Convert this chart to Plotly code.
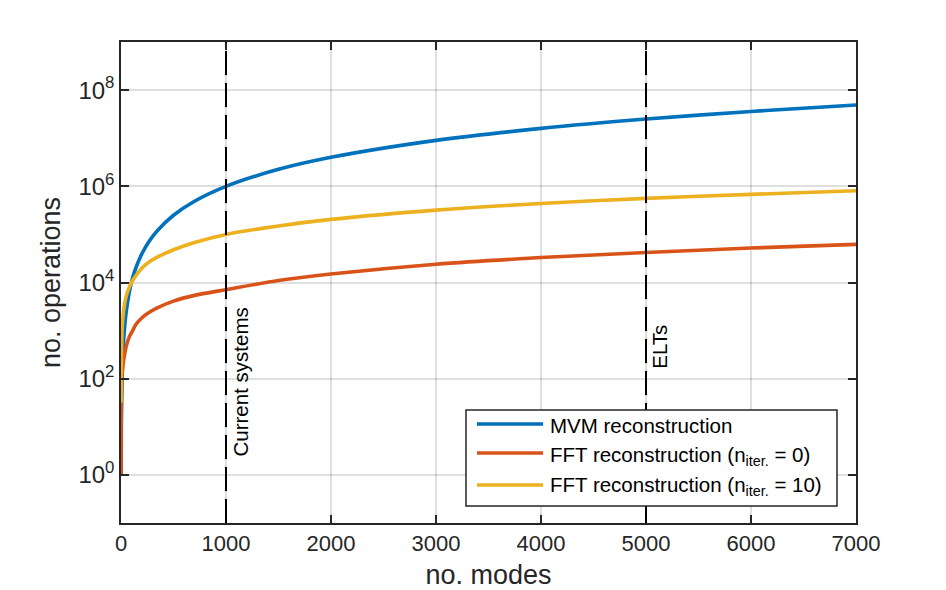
import math
import plotly.graph_objects as go

# ---- data ----
n_modes = [1, 3, 10, 20, 31, 50, 79, 111, 143, 200, 270, 350, 500, 700,
           1000, 1500, 2000, 3000, 4000, 5000, 6000, 7000]
ops_mvm = [1, 9, 100, 400, 960, 2500, 6300, 1.25e4, 2.05e4, 4.0e4, 7.3e4, 1.22e5,
           2.5e5, 4.9e5, 1.0e6, 2.25e6, 4.0e6, 9.0e6, 1.6e7, 2.5e7, 3.6e7, 4.9e7]
ops_fft0 = [1, 30, 120, 200, 290, 470, 740, 1000, 1350, 1850, 2400, 3000, 4100,
            5400, 7100, 1.1e4, 1.5e4, 2.4e4, 3.3e4, 4.2e4, 5.2e4, 6.2e4]
ops_fft10 = [32, 150, 1000, 2100, 3200, 5200, 8000, 1.1e4, 1.4e4, 2.0e4, 2.7e4,
             3.4e4, 4.8e4, 6.8e4, 1.0e5, 1.5e5, 2.05e5, 3.2e5, 4.4e5, 5.6e5,
             6.8e5, 8.1e5]

series_names = ["MVM reconstruction",
                "FFT reconstruction (n<sub>iter.</sub> = 0)",
                "FFT reconstruction (n<sub>iter.</sub> = 10)"]
series_colors = ["#0072BD", "#D95319", "#EDB120"]

x_ticks = [0, 1000, 2000, 3000, 4000, 5000, 6000, 7000]
y_ticks = [1, 1e2, 1e4, 1e6, 1e8]
y_ticktext = ["10<sup>0</sup>", "10<sup>2</sup>", "10<sup>4</sup>",
              "10<sup>6</sup>", "10<sup>8</sup>"]

markers_x = [1000, 5000]
markers_text = ["Current systems", "ELTs"]
markers_text_y = [2.3, 150]   # data value where the rotated text starts

FONT = "Liberation Sans, Arial, sans-serif"
AXC = "#262626"

# plot-area geometry (pixels) used for the hand-made legend
L, R, T, B = 121, 856, 42, 523
def px(xp):
    return (xp - L) / (R - L)
def py(yp):
    return (B - yp) / (B - T)

fig = go.Figure()
for ys, name, col in zip([ops_mvm, ops_fft0, ops_fft10], series_names, series_colors):
    fig.add_trace(go.Scatter(x=n_modes, y=ys, mode="lines", name=name, showlegend=False,
                             line=dict(color=col, width=3.6, shape="spline", smoothing=0.8)))

for mx, mt, my in zip(markers_x, markers_text, markers_text_y):
    fig.add_shape(type="line", xref="x", yref="paper", x0=mx, x1=mx, y0=0, y1=1,
                  line=dict(color="black", width=2, dash="24px,8px"), layer="above")
    fig.add_annotation(x=mx, y=math.log10(my), xref="x", yref="y", text=mt,
                       showarrow=False, textangle=-90, xanchor="left", yanchor="bottom",
                       xshift=1, borderpad=0,
                       font=dict(family=FONT, size=20.5, color="black"))

# legend (box, sample lines, labels)
fig.add_shape(type="rect", xref="paper", yref="paper", x0=px(466), x1=px(837),
              y0=py(506), y1=py(410), line=dict(color=AXC, width=1.5),
              fillcolor="white", layer="above")
row_line_y = [424, 453, 485]
row_text_y = [425, 456, 486]
for name, col, ly, ty in zip(series_names, series_colors, row_line_y, row_text_y):
    fig.add_shape(type="line", xref="paper", yref="paper", x0=px(477), x1=px(543),
                  y0=py(ly), y1=py(ly), line=dict(color=col, width=3.6), layer="above")
    fig.add_annotation(x=px(548), y=py(ty), xref="paper", yref="paper", text=name,
                       showarrow=False, xanchor="left", yanchor="middle",
                       font=dict(family=FONT, size=20.5, color="black"))

fig.update_layout(
    width=946, height=590,
    margin=dict(l=L, r=946 - R, t=T, b=590 - B),
    paper_bgcolor="white", plot_bgcolor="white",
    font=dict(family=FONT, size=22, color=AXC),
    showlegend=False,
)
fig.update_xaxes(range=[0, 7000], tickvals=x_ticks, ticks="inside", ticklen=8,
                 tickwidth=1.5, tickcolor=AXC, showline=True, linecolor=AXC, linewidth=1.5,
                 mirror="ticks", showgrid=True, gridcolor="rgba(38,38,38,0.15)", gridwidth=1.5,
                 zeroline=False, automargin=False,
                 title=dict(text="no. modes", font=dict(size=27), standoff=12),
                 tickfont=dict(size=22))
fig.update_yaxes(type="log", range=[-1, 9], tickvals=y_ticks, ticktext=y_ticktext,
                 ticks="inside", ticklen=8, tickwidth=1.5, tickcolor=AXC,
                 showline=True, linecolor=AXC, linewidth=1.5, mirror="ticks",
                 showgrid=True, gridcolor="rgba(38,38,38,0.15)", gridwidth=1.5,
                 zeroline=False, automargin=False,
                 title=dict(text="no. operations", font=dict(size=27), standoff=10),
                 tickfont=dict(size=24))

fig.write_html("out.html")
